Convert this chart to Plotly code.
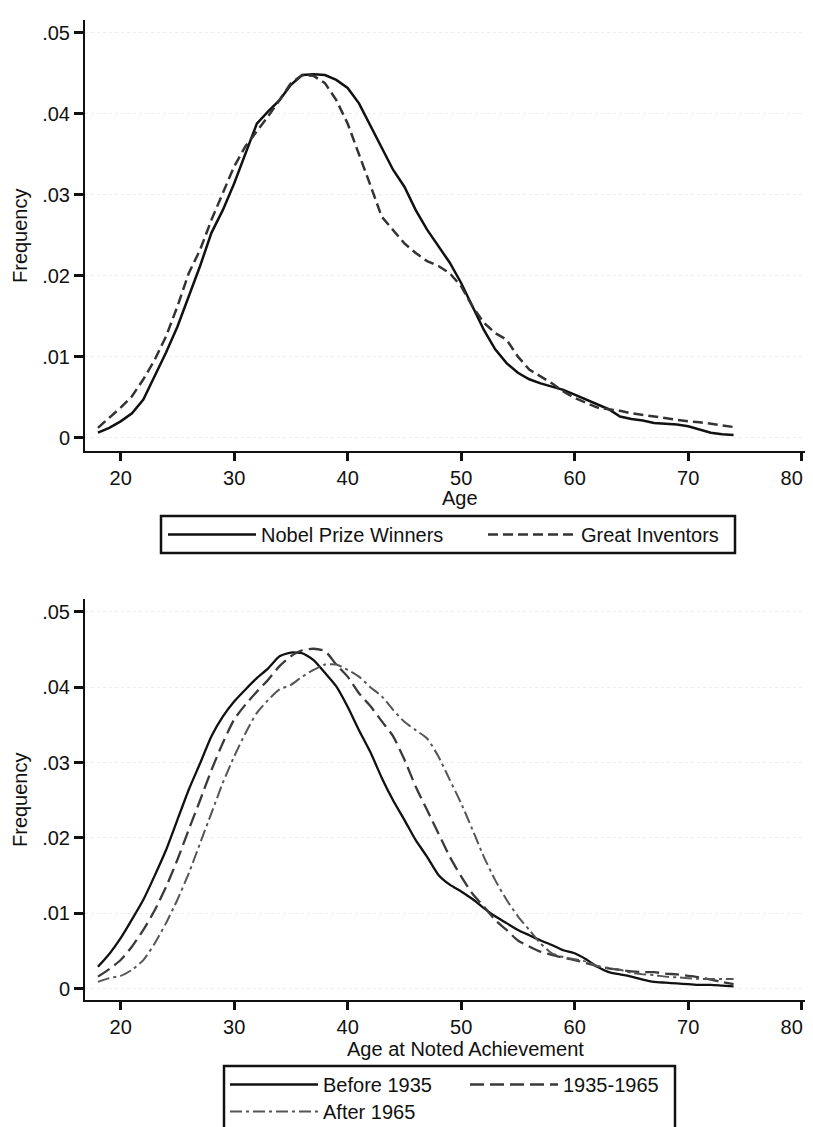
import plotly.graph_objects as go

ages = list(range(18, 75))

nobel = [0.0006, 0.0012, 0.0020, 0.0030, 0.0047, 0.0076, 0.0105, 0.0137, 0.0174, 0.0212,
         0.0253, 0.0281, 0.0314, 0.0351, 0.0388, 0.0403, 0.0417, 0.0436, 0.0448, 0.0449,
         0.0448, 0.0442, 0.0432, 0.0413, 0.0386, 0.0360, 0.0331, 0.0310, 0.0281, 0.0257,
         0.0236, 0.0216, 0.0191, 0.0162, 0.0133, 0.0109, 0.0092, 0.0080, 0.0072, 0.0067,
         0.0063, 0.0059, 0.0053, 0.0047, 0.0041, 0.0035, 0.0026, 0.0023, 0.0021, 0.0018,
         0.0017, 0.0016, 0.0014, 0.0010, 0.0006, 0.0004, 0.0003]

inventors = [0.0012, 0.0024, 0.0037, 0.0051, 0.0072, 0.0096, 0.0125, 0.0162, 0.0203, 0.0232,
             0.0269, 0.0302, 0.0335, 0.0360, 0.0378, 0.0397, 0.0417, 0.0438, 0.0448, 0.0447,
             0.0438, 0.0417, 0.0388, 0.0351, 0.0312, 0.0273, 0.0257, 0.0240, 0.0228, 0.0218,
             0.0212, 0.0203, 0.0187, 0.0162, 0.0142, 0.0129, 0.0121, 0.0100, 0.0084, 0.0076,
             0.0067, 0.0057, 0.0049, 0.0043, 0.0037, 0.0035, 0.0033, 0.0030, 0.0028, 0.0026,
             0.0024, 0.0022, 0.0020, 0.0019, 0.0017, 0.0015, 0.0013]

before_1935 = [0.0029, 0.0046, 0.0067, 0.0092, 0.0118, 0.0150, 0.0184, 0.0224, 0.0264, 0.0299,
               0.0335, 0.0361, 0.0381, 0.0397, 0.0412, 0.0425, 0.0441, 0.0446, 0.0445, 0.0436,
               0.0419, 0.0401, 0.0374, 0.0343, 0.0314, 0.0280, 0.0250, 0.0224, 0.0197, 0.0175,
               0.0151, 0.0138, 0.0129, 0.0119, 0.0107, 0.0096, 0.0087, 0.0078, 0.0071, 0.0064,
               0.0058, 0.0051, 0.0047, 0.0039, 0.0029, 0.0022, 0.0019, 0.0016, 0.0012, 0.0009,
               0.0008, 0.0007, 0.0006, 0.0005, 0.0005, 0.0004, 0.0003]

from_1935_1965 = [0.0016, 0.0026, 0.0038, 0.0056, 0.0078, 0.0104, 0.0135, 0.0171, 0.0211, 0.0250,
                  0.0290, 0.0326, 0.0357, 0.0377, 0.0394, 0.0410, 0.0428, 0.0441, 0.0449, 0.0451,
                  0.0448, 0.0430, 0.0414, 0.0392, 0.0375, 0.0355, 0.0335, 0.0304, 0.0268, 0.0237,
                  0.0206, 0.0175, 0.0149, 0.0126, 0.0109, 0.0091, 0.0078, 0.0064, 0.0056, 0.0049,
                  0.0045, 0.0041, 0.0038, 0.0034, 0.0030, 0.0027, 0.0025, 0.0023, 0.0022, 0.0022,
                  0.0020, 0.0019, 0.0017, 0.0015, 0.0012, 0.0009, 0.0006]

after_1965 = [0.0009, 0.0014, 0.0017, 0.0025, 0.0038, 0.0060, 0.0087, 0.0118, 0.0153, 0.0193,
              0.0233, 0.0273, 0.0308, 0.0339, 0.0366, 0.0383, 0.0397, 0.0403, 0.0414, 0.0423,
              0.0430, 0.0430, 0.0423, 0.0414, 0.0400, 0.0388, 0.0370, 0.0354, 0.0343, 0.0332,
              0.0308, 0.0277, 0.0246, 0.0211, 0.0175, 0.0144, 0.0118, 0.0096, 0.0078, 0.0060,
              0.0047, 0.0042, 0.0039, 0.0036, 0.0030, 0.0027, 0.0025, 0.0021, 0.0019, 0.0018,
              0.0016, 0.0015, 0.0014, 0.0013, 0.0013, 0.0013, 0.0013]

x_ticks = [20, 30, 40, 50, 60, 70, 80]
x_ticktext = ["20", "30", "40", "50", "60", "70", "80\u2003"]
y_ticks = [0, 0.01, 0.02, 0.03, 0.04, 0.05]
y_ticktext = ["0", ".01", ".02", ".03", ".04", ".05"]

FONT = "Liberation Sans, Arial, Helvetica, sans-serif"
OFF = 8                      # page body margin
W, H = 813 - OFF, 1127 - OFF
ML = 85 - OFF                # left margin in figure px
PW = W - ML


def sx(px):
    """screen px -> paper x"""
    return (px - OFF - ML) / PW


def sy(py):
    """screen px -> paper y"""
    return 1 - (py - OFF) / H


fig = go.Figure()

fig.add_trace(go.Scatter(x=ages, y=nobel, mode="lines", name="Nobel Prize Winners",
                         line=dict(color="#111111", width=2.5), xaxis="x", yaxis="y", legend="legend"))
fig.add_trace(go.Scatter(x=ages, y=inventors, mode="lines", name="Great Inventors",
                         line=dict(color="#333333", width=2.5, dash="10px,5px"),
                         xaxis="x", yaxis="y", legend="legend"))

fig.add_trace(go.Scatter(x=ages, y=before_1935, mode="lines", name="Before 1935",
                         line=dict(color="#111111", width=2.3, shape="spline", smoothing=0.6),
                         xaxis="x2", yaxis="y2", legend="legend2"))
fig.add_trace(go.Scatter(x=ages, y=from_1935_1965, mode="lines", name="1935-1965",
                         line=dict(color="#3a3a3a", width=2.3, dash="14px,6px", shape="spline", smoothing=0.6),
                         xaxis="x2", yaxis="y2", legend="legend2"))
fig.add_trace(go.Scatter(x=ages, y=after_1965, mode="lines", name="After 1965",
                         line=dict(color="#555555", width=2, dash="12px,4px,3px,4px", shape="spline", smoothing=0.6),
                         xaxis="x2", yaxis="y2", legend="legend3"))

xcommon = dict(range=[16.86, 81.0], tickvals=x_ticks, ticktext=x_ticktext, ticks="outside",
               ticklen=8, tickwidth=2.5, tickcolor="#111", showline=True, linecolor="#111",
               linewidth=2, showgrid=False, zeroline=False, ticklabeloverflow="allow",
               tickfont=dict(size=20, color="#111", family=FONT), domain=[0, 1])
ycommon = dict(tickvals=y_ticks, ticktext=y_ticktext, ticks="outside", ticklen=9, tickwidth=2.5,
               tickcolor="#111", showline=True, linecolor="#111", linewidth=2, showgrid=True,
               gridcolor="#ededed", griddash="dot", gridwidth=1, zeroline=False,
               tickfont=dict(size=20, color="#111", family=FONT))

legcommon = dict(orientation="h", xanchor="left", yanchor="top", bgcolor="rgba(0,0,0,0)",
                 borderwidth=0, font=dict(size=20, color="#111", family=FONT),
                 itemwidth=88, traceorder="normal", xref="paper", yref="paper")

fig.update_layout(
    width=W, height=H,
    margin=dict(l=ML, r=0, t=0, b=0, autoexpand=False),
    paper_bgcolor="white", plot_bgcolor="white",
    font=dict(family=FONT, size=20, color="#111"),
    xaxis=dict(xcommon, anchor="y"),
    yaxis=dict(ycommon, range=[-0.0016, 0.0516], domain=[sy(450.5), sy(20)], anchor="x"),
    xaxis2=dict(xcommon, anchor="y2"),
    yaxis2=dict(ycommon, range=[-0.0015, 0.0517], domain=[sy(1000), sy(599)], anchor="x2"),
    legend=dict(legcommon, x=sx(163), y=sy(515), entrywidth=217),
    legend2=dict(legcommon, x=sx(225), y=sy(1065), entrywidth=137),
    legend3=dict(legcommon, x=sx(225), y=sy(1092)),
    shapes=[
        dict(type="rect", xref="paper", yref="paper", x0=sx(161), x1=sx(735), y0=sy(553), y1=sy(516),
             line=dict(color="#111", width=2.5), fillcolor="rgba(0,0,0,0)", layer="above"),
        dict(type="rect", xref="paper", yref="paper", x0=sx(224), x1=sx(675), y0=sy(1145), y1=sy(1066),
             line=dict(color="#111", width=2.5), fillcolor="rgba(0,0,0,0)", layer="above"),
    ],
    annotations=[
        dict(text="Frequency", x=sx(20), y=sy(236), xref="paper", yref="paper", textangle=-90,
             showarrow=False, xanchor="center", yanchor="middle", font=dict(size=20, color="#111")),
        dict(text="Frequency", x=sx(20), y=sy(800), xref="paper", yref="paper", textangle=-90,
             showarrow=False, xanchor="center", yanchor="middle", font=dict(size=20, color="#111")),
        dict(text="Age", x=sx(460), y=sy(498), xref="paper", yref="paper",
             showarrow=False, xanchor="center", yanchor="middle", font=dict(size=20, color="#111")),
        dict(text="Age at Noted Achievement", x=sx(465), y=sy(1049), xref="paper", yref="paper",
             showarrow=False, xanchor="center", yanchor="middle", font=dict(size=20, color="#111")),
    ],
    showlegend=True,
)

fig.write_html("out.html")
